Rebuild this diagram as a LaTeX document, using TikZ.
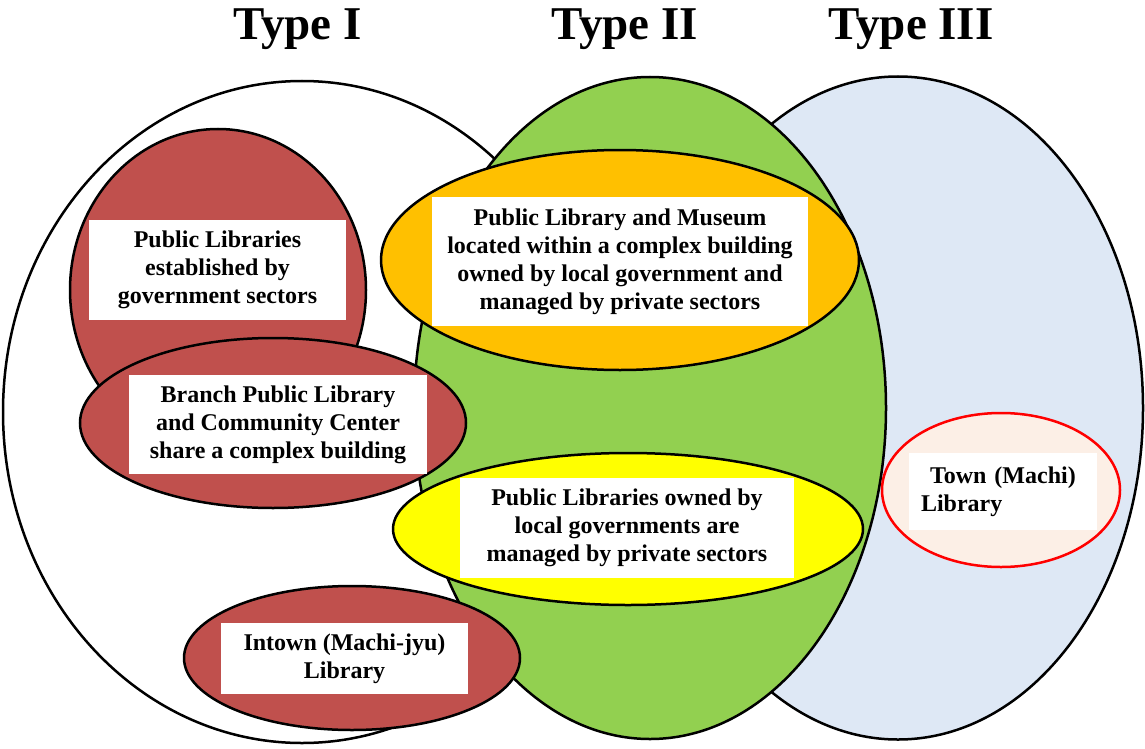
\documentclass[tikz,border=0pt]{standalone}
\usepackage{fontspec}
\setmainfont{Liberation Serif}
\usetikzlibrary{shapes.geometric}
\definecolor{redf}{HTML}{C0504D}
\definecolor{greenf}{HTML}{92D050}
\definecolor{orangef}{HTML}{FFC000}
\definecolor{yellowf}{HTML}{FFFF00}
\definecolor{bluef}{HTML}{DEE8F5}
\definecolor{peachf}{HTML}{FCEFE6}
\definecolor{redline}{HTML}{FF0000}
\begin{document}
\begin{tikzpicture}[x=1pt,y=-1pt,
  venn/.style={ellipse, draw=black, line width=2.5pt, inner sep=0pt},
  lbox/.style={fill=white, inner sep=0pt, align=center, font=\fontsize{24}{28}\selectfont\bfseries},
  ttl/.style={font=\fontsize{47}{50}\selectfont\bfseries, anchor=base, inner sep=0pt}]
\useasboundingbox (0,0) rectangle (1145,749);
% big sets
\node[venn, fill=white, minimum width=598pt, minimum height=662pt] (t1) at (302,412) {};
\node[venn, fill=bluef, minimum width=490pt, minimum height=663pt] (t3) at (898,408) {};
\node[venn, fill=greenf, minimum width=472pt, minimum height=662pt] (t2) at (650,408) {};
% inner ellipses
\node[venn, fill=redf, minimum width=296pt, minimum height=322pt] (e1) at (218,290) {};
\node[venn, fill=redf, minimum width=386pt, minimum height=170pt] (e2) at (273,423) {};
\node[venn, fill=redf, minimum width=336pt, minimum height=144pt] (e3) at (352,658) {};
\node[venn, fill=orangef, minimum width=478pt, minimum height=220pt] (e4) at (620,260) {};
\node[venn, fill=yellowf, minimum width=470pt, minimum height=152pt] (e5) at (628,529) {};
\node[venn, draw=redline, fill=peachf, minimum width=238pt, minimum height=154pt] (e6) at (1001,490) {};
% text boxes
\node[lbox, minimum width=257pt, minimum height=100pt] (b1) at (217.5,270) {Public Libraries\\established by\\government sectors};
\node[lbox, minimum width=298pt, minimum height=99pt] (b2) at (278,424.5) {Branch Public Library\\and Community Center\\share a complex building};
\node[lbox, minimum width=247pt, minimum height=71pt] (b3) at (344.5,658.5) {Intown (Machi-jyu)\\Library};
\node[lbox, minimum width=376pt, minimum height=129pt] (b4) at (620,261.5) {Public Library and Museum\\located within a complex building\\owned by local government and\\managed by private sectors};
\node[lbox, minimum width=334pt, minimum height=100pt] (b5) at (627,528) {Public Libraries owned by\\local governments are\\managed by private sectors};
\node[lbox, align=left, inner xsep=12pt, text width=164pt, minimum height=77pt] (b6) at (1003,491.5) {\hspace*{9pt}Town (Machi)\\Library};
% titles
\node[ttl] (h1) at (297.5,40) {Type I};
\node[ttl] (h2) at (624.5,40) {Type II};
\node[ttl] (h3) at (911,40) {Type III};
\end{tikzpicture}
\end{document}
